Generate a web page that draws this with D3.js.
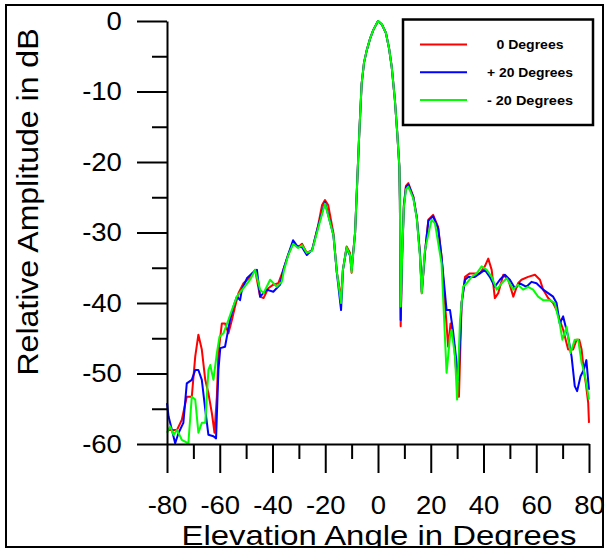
<!DOCTYPE html>
<html>
<head>
<meta charset="utf-8">
<title>Elevation pattern</title>
<script src="https://cdnjs.cloudflare.com/ajax/libs/d3/7.8.5/d3.min.js"></script>
<style>
	body { margin: 0; background: #fff; }
	text { font-family: "Liberation Sans", Arial, sans-serif; fill: #000; }
</style>
</head>
<body>
<svg id="chart" width="605" height="552"></svg>
<script>

	// elevation angle (deg) and relative amplitude (dB)
	var redAngles = [-80,-76.2,-74.4,-72.5,-70.6,-69.3,-68.1,-66.8,-65.5,-64.3,-63,-62,-61.1,-60.5,-59.2,-58,-56.7,-55.4,-54.2,-52.9,-51,-48.5,-46.6,-44.7,-43.4,-41.6,-39.7,-37.8,-35.9,-34.1,-32.2,-30.3,-28.8,-27,-25,-22.7,-21.2,-20.1,-18.9,-16.9,-15.6,-14.8,-14,-13.3,-11.9,-10.6,-10,-9.5,-8.7,-7.8,-7.1,-6.2,-5.3,-4.3,-3,-1.8,0,1.5,3,4.2,5.2,6.4,7.3,8.1,8.3,8.6,9.1,9.8,10.6,11.5,13.4,14.7,15.9,16.6,17.8,19.1,20.9,22.8,24.1,25.4,26.6,27.5,28.8,29.8,30.7,31.7,33,34.8,36.7,38.6,40.5,41.8,43.1,44.3,45.6,47.5,49.4,51.3,53.1,54.4,56.9,59.5,61.4,62.6,64.5,66.4,67.7,68.9,70.2,72.1,74,75.3,76.3,77.2,78,78.8,79.7,80];
	var redDb = [-58,-58,-56.6,-53.3,-53.3,-47.6,-44.5,-46.6,-50.9,-52.8,-55.6,-58.4,-53.3,-47.1,-42.9,-42.9,-44.3,-42.4,-40.5,-38.6,-37.2,-36.3,-35.3,-39.1,-39.3,-37.9,-37.4,-37.2,-35.3,-33.2,-31.5,-32.1,-31.6,-32.9,-32.5,-29,-26.1,-25.4,-26.1,-30.1,-35.7,-37.4,-39.6,-35.3,-32,-32.9,-35.7,-33.2,-30.1,-22.1,-15.9,-8.9,-5.9,-4.2,-2.5,-1.3,0,-0.5,-1.7,-3.9,-6.5,-11.2,-15.9,-20.7,-25.4,-43.3,-33.9,-26.1,-23.4,-23,-24.9,-27.8,-32.9,-38.6,-32.9,-28.2,-27.5,-29.2,-33.4,-40,-46.2,-42.9,-45.7,-50.4,-53.3,-40,-36.3,-35.8,-35.8,-35.8,-34.8,-33.7,-35.3,-39.3,-38.6,-36,-36.7,-39.1,-37.2,-36.7,-36.3,-36,-36.7,-38.1,-39.3,-40,-41,-42.4,-43.8,-46.6,-46.6,-45.2,-45.2,-46.6,-49.5,-51.4,-54.2,-57];

	var blueAngles = [-80,-79.4,-76.9,-75.6,-73.8,-72.5,-70.6,-69.3,-68.1,-66.8,-65.5,-64.3,-62.4,-61.4,-60.5,-59.8,-58,-57.3,-56.1,-54.8,-53.5,-52.3,-51.6,-49.7,-47.8,-45.9,-44.7,-42.2,-39.7,-37.1,-35.9,-34.1,-32.2,-30.7,-28.8,-27,-25,-22.7,-20.1,-16.9,-15.6,-14,-13.3,-11.9,-10.6,-10,-8.7,-7.8,-7.1,-6.2,-5.3,-4.3,-3,-1.8,0,1.5,3,4.2,5.2,6.4,7.3,8.1,8.3,8.6,9.1,9.8,10.6,11.5,13.4,14.7,15.9,16.6,17.8,19.1,20.9,22.8,24.1,26,27.3,28.4,29.8,30.5,31.7,33,34.2,36.7,38.6,40.5,42.4,44.3,46.2,48.1,50,51.9,53.8,56.3,58.2,60.1,62.6,64.5,66.4,67.7,68.9,70.2,72.1,73.4,74.6,75.5,76.8,78,79,80];
	var blueDb = [-54.2,-56.1,-59.9,-58.4,-57,-51.4,-50.9,-49.5,-49.5,-50.9,-55.1,-58.7,-58.9,-59.2,-49.5,-46.4,-46.2,-44.8,-42.4,-40.5,-39.1,-39.6,-38.1,-36.5,-35.8,-35.3,-39.1,-38.1,-38.4,-37.4,-35.3,-33.2,-31.1,-31.9,-32.1,-33.2,-32.5,-29.1,-25.7,-30.4,-35.7,-41,-35.3,-32.2,-33.3,-35.3,-30.1,-22.1,-15.9,-8.9,-5.9,-4.2,-2.5,-1.3,0,-0.5,-1.7,-3.9,-6.5,-11.2,-15.9,-20.7,-25.4,-42.4,-33.9,-26.3,-23.6,-23.2,-25,-27.9,-33,-38.4,-32.8,-28.3,-27.7,-29.4,-33.5,-41,-41,-43.8,-48.5,-50.9,-40,-36.7,-36.3,-36.3,-35.8,-35.3,-36.3,-37.7,-36.7,-36,-36.7,-37.9,-37.2,-37.7,-37,-37.2,-38.1,-38.6,-39.1,-40,-42.9,-41.9,-44.8,-47.6,-51.8,-52.5,-50.4,-49.5,-48.1,-52.3];

	var greenAngles = [-80,-78.8,-77.5,-76.2,-74.4,-71.9,-70.6,-69.3,-68.1,-66.8,-65.5,-64.3,-63.6,-62.4,-61.1,-60.1,-58.6,-56.7,-55.4,-53.5,-51,-48.5,-46.6,-44.7,-43.4,-40.9,-38.4,-36.5,-35.6,-34.1,-32.2,-30.3,-28.8,-27,-25,-22.7,-20.1,-16.9,-15.6,-14,-13.3,-11.9,-10.6,-10,-8.7,-7.8,-7.1,-6.2,-5.3,-4.3,-3,-1.8,0,1.5,3,4.2,5.2,6.4,7.3,8.1,8.3,8.6,9.1,9.8,10.6,11.5,13.4,14.7,15.9,16.6,17.8,20.3,21.6,24.1,26,27.3,27.9,29.2,30,31.1,32.3,33.6,35.5,37.4,39.3,41.2,43.1,45,46.9,48.8,51.3,53.1,55,56.9,58.8,60.7,62.6,65.2,67,68.9,69.9,71.5,73,74.6,75.9,77.2,78,79,80];
	var greenDb = [-58.4,-57.5,-58.7,-58,-59.4,-59.9,-53.3,-53.7,-58.4,-57,-57,-49.5,-48.8,-50.9,-47.1,-44.8,-44.3,-42.4,-41,-39.1,-37.9,-36.7,-35.3,-38.1,-38.6,-36.7,-37.7,-37,-35.3,-33.3,-31.6,-32.2,-31.8,-32.9,-32.6,-29.4,-25.9,-30.4,-35.6,-40,-35.3,-32.1,-33.2,-35.6,-30.1,-22.1,-15.9,-8.9,-5.9,-4.2,-2.5,-1.3,0,-0.5,-1.7,-3.9,-6.5,-11.2,-15.9,-20.7,-25.4,-40.5,-33.9,-26.5,-23.9,-23.5,-25.2,-28,-33.4,-38.6,-32.5,-28.2,-28.7,-34.4,-49.9,-44.8,-43.8,-47.6,-53.7,-42.4,-37.7,-37.2,-36.3,-35.8,-34.8,-35.3,-36.3,-38.1,-37.2,-36.5,-38.1,-37.4,-38.1,-37.7,-38.1,-39.1,-39.6,-39.6,-40,-42.9,-45.2,-43.4,-47.1,-45.2,-45.2,-48.5,-49.5,-51.4,-53.7];

	var seriesNames = ["0 Degrees", "+ 20 Degrees", "- 20 Degrees"];
	var seriesColors = ["#ff0000", "#0000ff", "#00ff00"];

	var xMajor = [-80, -60, -40, -20, 0, 20, 40, 60, 80];
	var xMinor = [-70, -50, -30, -10, 10, 30, 50, 70];
	var yMajor = [0, -10, -20, -30, -40, -50, -60];
	var yMinor = [-5, -15, -25, -35, -45, -55];

	// plain hyphen for negatives, like the original
	function fmt(d) { return String(d); }

	function zip(a, b) {
		return a.map(function(v, i) { return {angle: v, db: b[i]}; });
	}

	var series = [
		zip(redAngles, redDb),
		zip(blueAngles, blueDb),
		zip(greenAngles, greenDb)
	];

	var svg = d3.select("#chart");

	svg.append("rect")
		.attr("width", 605).attr("height", 552)
		.attr("fill", "#fff");

	var x = d3.scaleLinear().domain([-80, 80]).range([167, 589]);
	var y = d3.scaleLinear().domain([-60, 0]).range([444, 21]);

	var line = d3.line()
		.x(function(d) { return x(d.angle); })
		.y(function(d) { return y(d.db); });

	series.forEach(function(s, i) {
		svg.append("path")
			.datum(s)
			.attr("fill", "none")
			.attr("stroke", seriesColors[i])
			.attr("stroke-width", 2)
			.attr("stroke-linejoin", "round")
			.attr("d", line);
	});

	// x axis
	var gx = svg.append("g").attr("transform", "translate(0,444)");
	gx.append("g")
		.call(d3.axisBottom(x).tickValues(xMinor).tickSize(15).tickFormat(""))
		.select(".domain").remove();
	gx.append("g")
		.call(d3.axisBottom(x).tickValues(xMajor).tickFormat(fmt).tickSize(29).tickSizeOuter(0).tickPadding(23))
		.selectAll("text")
		  .attr("transform", "scale(1.1,1)")
		  .attr("font-size", 25);

	// y axis
	var gy = svg.append("g").attr("transform", "translate(167,0)");
	gy.append("g")
		.call(d3.axisLeft(y).tickValues(yMinor).tickSize(15).tickFormat(""))
		.select(".domain").remove();
	gy.append("g")
		.call(d3.axisLeft(y).tickValues(yMajor).tickFormat(fmt).tickSize(30).tickSizeOuter(0).tickPadding(15))
		.selectAll("text")
		  .attr("x", -41)
		  .attr("transform", "scale(1.1,1)")
		  .attr("font-size", 25);

	svg.selectAll(".tick line, .domain")
		.attr("stroke", "#000")
		.attr("stroke-width", 2);
	svg.selectAll(".tick text").attr("fill", "#000");

	// axis titles
	svg.append("text")
		.attr("x", 379).attr("y", 545)
		.attr("text-anchor", "middle")
		.attr("font-size", 28)
		.attr("textLength", 395)
		.attr("lengthAdjust", "spacingAndGlyphs")
		.text("Elevation Angle in Degrees");

	svg.append("text")
		.attr("transform", "translate(38,202) rotate(-90)")
		.attr("text-anchor", "middle")
		.attr("font-size", 29)
		.attr("textLength", 347)
		.attr("lengthAdjust", "spacingAndGlyphs")
		.text("Relative Amplitude in dB");

	// legend
	var legend = svg.append("g");
	legend.append("rect")
		.attr("x", 403).attr("y", 19.5)
		.attr("width", 190).attr("height", 105.5)
		.attr("fill", "#fff")
		.attr("stroke", "#000")
		.attr("stroke-width", 2.5);

	var rowY = d3.scalePoint().domain(seriesNames).range([44.5, 100]);

	seriesNames.forEach(function(name, i) {
		legend.append("line")
			.attr("x1", 420).attr("x2", 467)
			.attr("y1", rowY(name)).attr("y2", rowY(name))
			.attr("stroke", seriesColors[i])
			.attr("stroke-width", 2);
		legend.append("text")
			.attr("x", 530).attr("y", rowY(name))
			.attr("dy", "0.37em")
			.attr("text-anchor", "middle")
			.attr("font-size", 13)
			.attr("font-weight", "bold")
			.attr("textLength", i == 0 ? 67 : 86)
			.attr("lengthAdjust", "spacingAndGlyphs")
			.text(name);
	});

	// outer frame, bottom strip under it stays white
	svg.append("rect")
		.attr("x", 0).attr("y", 548)
		.attr("width", 605).attr("height", 4)
		.attr("fill", "#fff");
	svg.append("rect")
		.attr("x", 6).attr("y", 5)
		.attr("width", 597).attr("height", 542)
		.attr("fill", "none")
		.attr("stroke", "#000")
		.attr("stroke-width", 2);

</script>
</body>
</html>
